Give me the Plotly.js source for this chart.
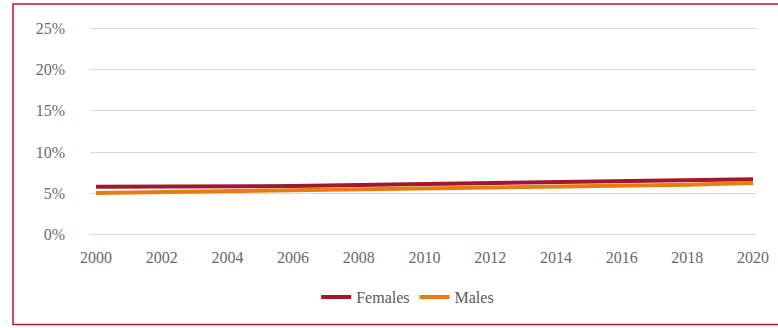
<!DOCTYPE html>
<html>
<head>
<meta charset="utf-8">
<script src="https://cdn.plot.ly/plotly-3.0.1.min.js"></script>
<style>html,body{margin:0;padding:0;background:#fff;}#chart{width:778px;height:328px;}</style>
</head>
<body>
<div id="chart"></div>
<script>
const years = [2000,2001,2002,2003,2004,2005,2006,2007,2008,2009,2010,2011,2012,2013,2014,2015,2016,2017,2018,2019,2020];
const females = [5.8,5.8,5.75,5.8,5.85,5.85,5.9,5.95,6.0,6.05,6.1,6.15,6.2,6.25,6.3,6.35,6.4,6.45,6.5,6.6,6.7];
const males = [5.05,5.1,5.15,5.2,5.25,5.3,5.35,5.4,5.45,5.5,5.6,5.65,5.7,5.75,5.8,5.85,5.9,5.95,6.05,6.15,6.25];
const yTicks = [0,5,10,15,20,25];
const yTickText = ["0%","5%","10%","15%","20%","25%"];
const xTicks = [2000,2002,2004,2006,2008,2010,2012,2014,2016,2018,2020];

const traces = [
  {x: years, y: females, name: "Females", type: "scatter", mode: "lines",
   line: {color: "#A3172A", width: 4}},
  {x: years, y: males, name: "Males", type: "scatter", mode: "lines",
   line: {color: "#E87C12", width: 4}}
];

const serif = "Liberation Serif";
const layout = {
  width: 778, height: 328,
  margin: {l: 90, r: 22, t: 25.5, b: 90.5},
  paper_bgcolor: "#fff", plot_bgcolor: "#fff",
  font: {family: serif, color: "#666", size: 14},
  xaxis: {range: [1999.817, 2020.09], tickvals: xTicks, showgrid: false, zeroline: false,
          showline: false, ticks: "", ticklabelstandoff: 9,
          tickfont: {family: serif, size: 16, color: "#6a6a6a"}},
  yaxis: {range: [-0.3, 25.3], tickvals: yTicks, ticktext: yTickText, showgrid: true,
          gridcolor: "#d9d9d9", gridwidth: 1, zeroline: false, showline: false, ticks: "",
          ticklabelstandoff: 24,
          tickfont: {family: serif, size: 16, color: "#6a6a6a"}},
  showlegend: true,
  legend: {orientation: "h", x: 0.477, xanchor: "center", y: -0.285, yanchor: "middle",
           font: {family: serif, size: 16, color: "#595959"},
           itemwidth: 30, bgcolor: "rgba(0,0,0,0)"},
  shapes: [{type: "rect", xref: "paper", yref: "paper", x0: -0.1156, x1: 1.1, y0: -0.415, y1: 1.104,
            line: {color: "#C8102E", width: 1.5}, fillcolor: "rgba(0,0,0,0)"}]
};

Plotly.newPlot("chart", traces, layout, {displayModeBar: false, staticPlot: true});
</script>
</body>
</html>
